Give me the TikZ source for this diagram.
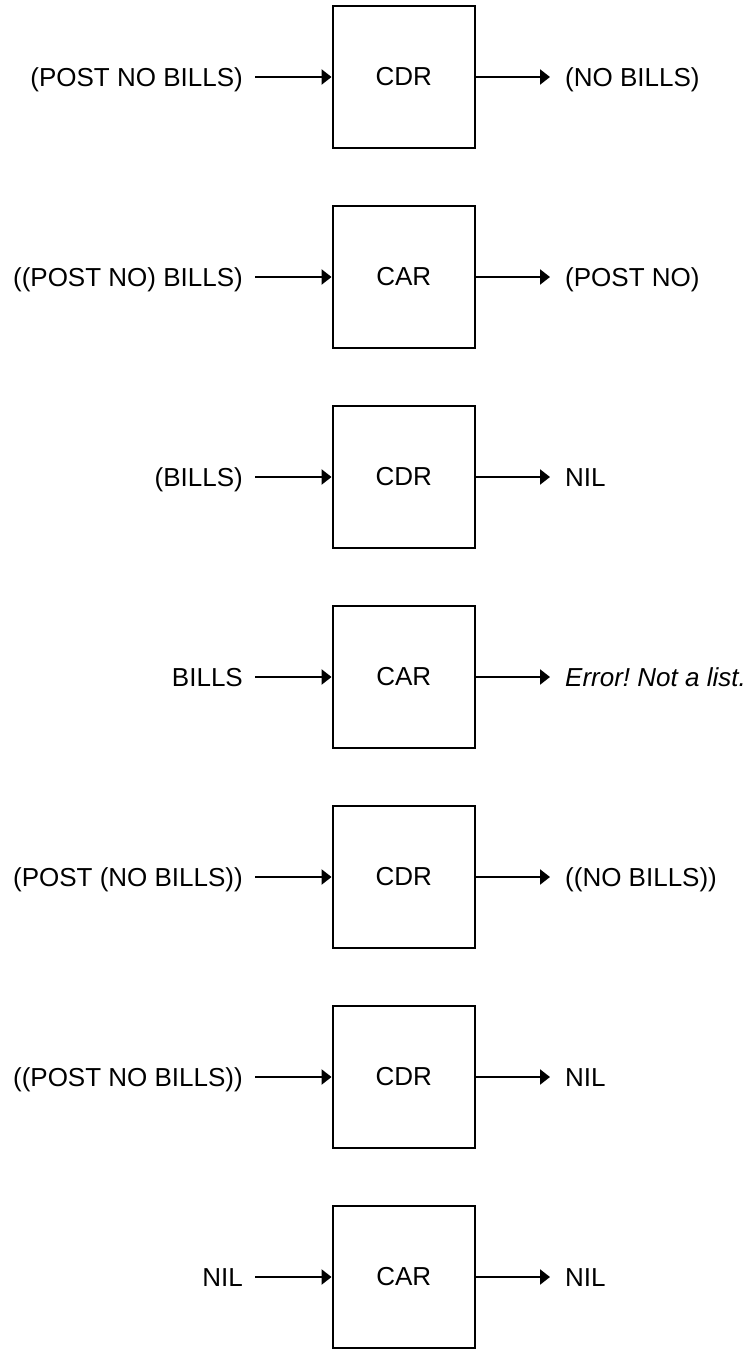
\documentclass[tikz,border=0pt]{standalone}
\usepackage{fontspec}
\setmainfont{Liberation Sans}
\usetikzlibrary{arrows.meta}
\begin{document}
\begin{tikzpicture}[x=1pt,y=-1pt,
  fnbox/.style={draw,line width=2.3pt,minimum width=142pt,minimum height=142pt,inner sep=0pt,
    font=\fontsize{26}{30}\selectfont},
  lbl/.style={inner sep=0pt,text height=19pt,text depth=0pt,font=\fontsize{26}{30}\selectfont},
  arr/.style={line width=2.3pt,-{Triangle[length=10pt,width=15pt]}}]
\useasboundingbox (0,0) rectangle (753,1352);
\foreach \i/\fn/\inp/\outp in {
  1/CDR/{(POST NO BILLS)}/{(NO BILLS)},
  2/CAR/{((POST NO) BILLS)}/{(POST NO)},
  3/CDR/{(BILLS)}/{NIL},
  4/CAR/{BILLS}/{\textit{Error!\ Not a list.}},
  5/CDR/{(POST (NO BILLS))}/{((NO BILLS))},
  6/CDR/{((POST NO BILLS))}/{NIL},
  7/CAR/{NIL}/{NIL}}{
  \pgfmathsetmacro{\yy}{77+200*(\i-1)}
  \node[fnbox] (b\i) at (403.7,\yy) {\fn};
  \node[lbl,anchor=east] (in\i) at (243,\yy) {\inp};
  \node[lbl,anchor=west] (out\i) at (565,\yy) {\outp};
  \draw[arr] ([xshift=12pt]in\i.east) -- (b\i.west);
  \draw[arr] (b\i.east) -- ([xshift=-15pt]out\i.west);
}
\end{tikzpicture}
\end{document}
